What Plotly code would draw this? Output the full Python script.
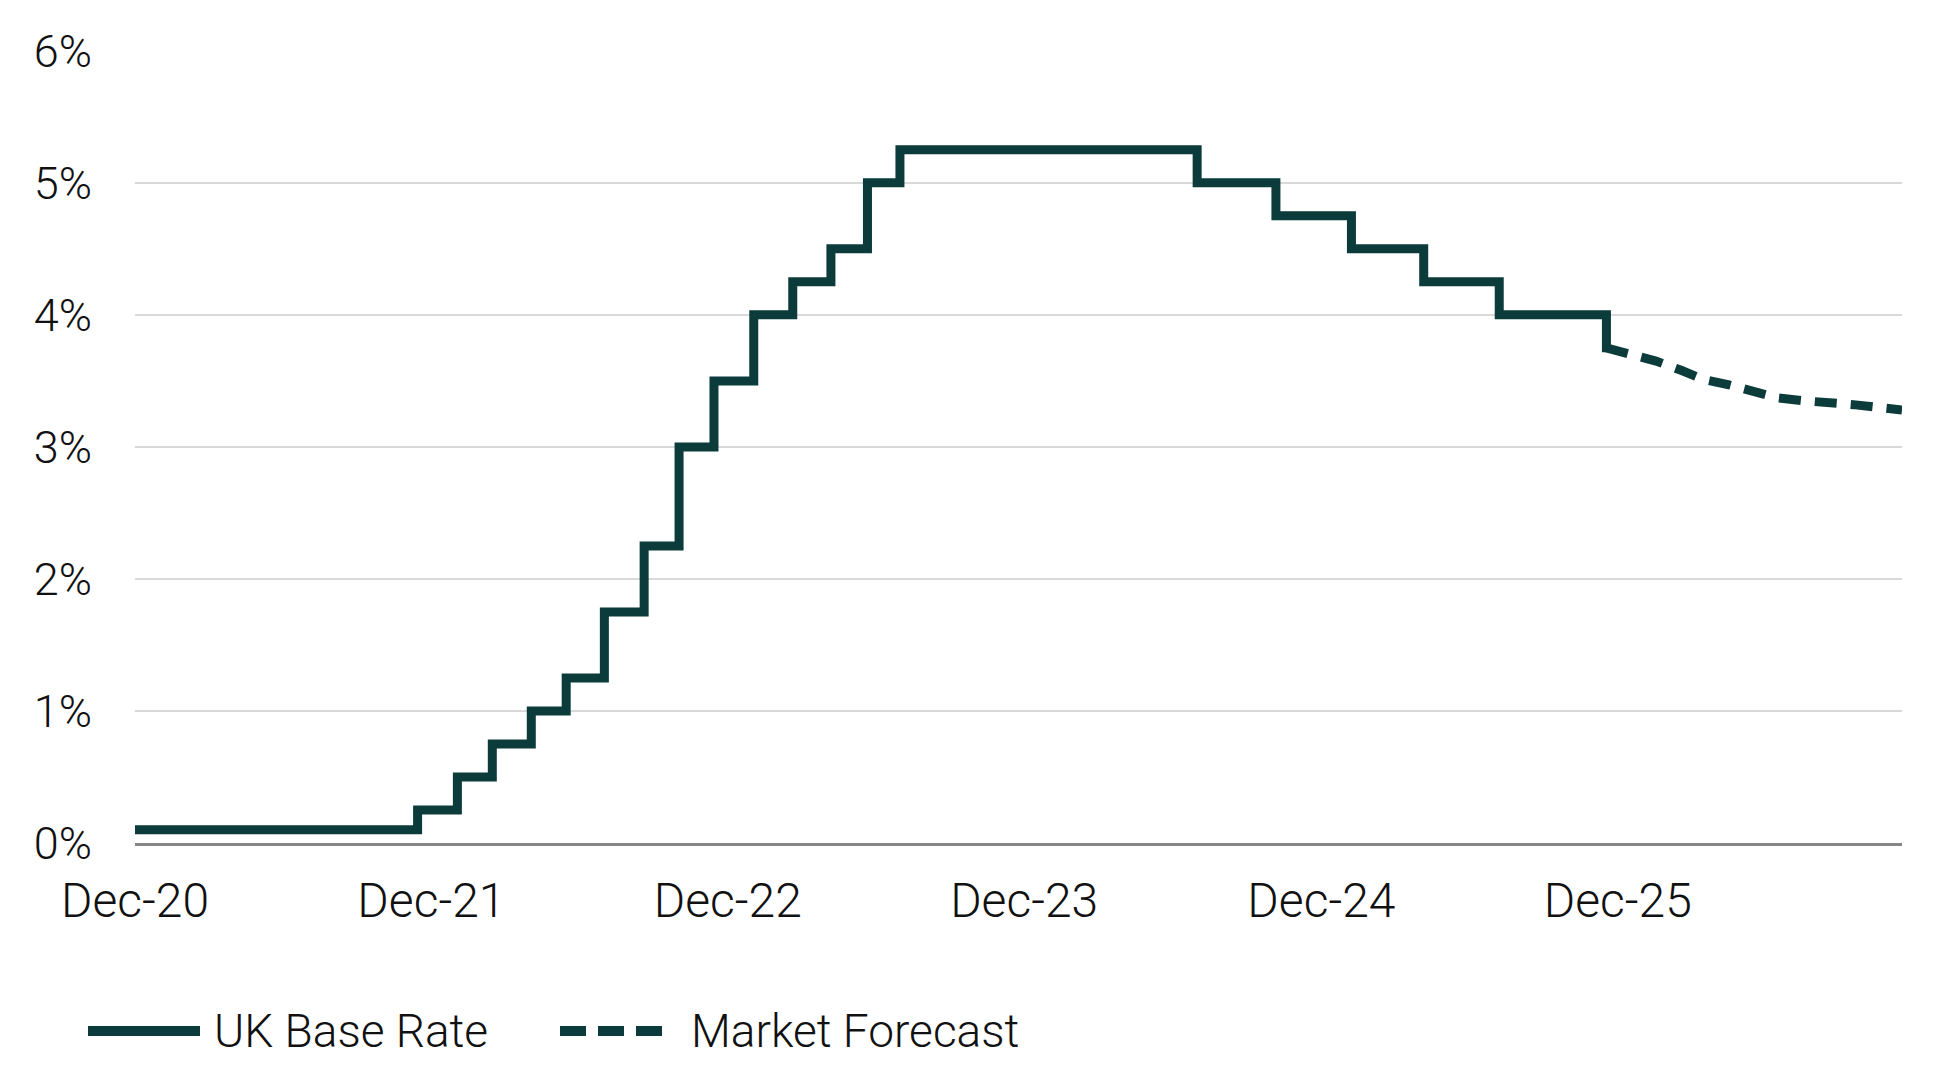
import plotly.graph_objects as go

# ---- data ----
base_dates = ['2020-12-01', '2021-11-14', '2022-01-02', '2022-02-14', '2022-04-03',
              '2022-05-16', '2022-07-02', '2022-08-20', '2022-10-02', '2022-11-14',
              '2023-01-02', '2023-02-19', '2023-04-07', '2023-05-22', '2023-07-01',
              '2024-07-01', '2024-10-06', '2025-01-07', '2025-04-06', '2025-07-08',
              '2025-11-17', '2025-11-22']
base_rates = [0.10, 0.25, 0.50, 0.75, 1.00, 1.25, 1.75, 2.25, 3.00, 3.50,
              4.00, 4.25, 4.50, 5.00, 5.25, 5.00, 4.75, 4.50, 4.25, 4.00,
              3.75, 3.75]

forecast_dates = ['2025-11-17', '2025-12-17', '2026-01-17', '2026-02-17', '2026-03-17',
                  '2026-04-17', '2026-05-17', '2026-06-17', '2026-07-17', '2026-08-17',
                  '2026-09-17', '2026-10-17', '2026-11-16']
forecast_rates = [3.75, 3.70, 3.65, 3.58, 3.51, 3.47, 3.42, 3.37, 3.35, 3.34,
                  3.32, 3.30, 3.28]

series_names = ['UK Base Rate', 'Market Forecast']
x_range = ['2020-12-01', '2026-11-16']
y_ticks = [0, 1, 2, 3, 4, 5, 6]
y_labels = ['0%', '1%', '2%', '3%', '4%', '5%', '6%']

COLOR = '#0b3b3a'
BASEFONT = dict(family='Roboto, Arial, sans-serif', color='#111111', weight=300)
XFONT = dict(BASEFONT, size=48)
YFONT = dict(BASEFONT, size=45)
LFONT = dict(BASEFONT, size=46)

W, H = 1953, 1068
OFF = 8  # page body margin
L, R, T, B = 135 - OFF, 51 + OFF, 50 - OFF, 225 + OFF

fig = go.Figure()
fig.add_trace(go.Scatter(x=base_dates, y=base_rates, mode='lines', name=series_names[0],
                         line=dict(color=COLOR, width=9, shape='hv'), showlegend=False))
fig.add_trace(go.Scatter(x=forecast_dates, y=forecast_rates, mode='lines', name=series_names[1],
                         line=dict(color=COLOR, width=9, dash='22px,14px'), showlegend=False))

fig.update_layout(
    width=W, height=H,
    margin=dict(l=L, r=R, t=T, b=B),
    paper_bgcolor='white', plot_bgcolor='white',
    font=LFONT,
    xaxis=dict(type='date', range=x_range, tick0='2020-12-01', dtick='M12',
               tickformat='%b-%y', showgrid=False, zeroline=False,
               showline=True, linecolor='#858585', linewidth=3,
               ticks='', ticklabelstandoff=13, tickfont=XFONT),
    yaxis=dict(range=[0, 6.006], tickvals=y_ticks, ticktext=y_labels,
               showgrid=True, gridcolor='#d9d9d9', gridwidth=2,
               zeroline=False, showline=False, ticks='',
               ticklabelstandoff=42, tickfont=YFONT),
)

# ---- manual legend (long line samples like the original) ----
pw = W - L - R
ph = H - T - B
def px(xp):
    return (xp - OFF - L) / pw
def py(yp):
    return (H - B - (yp - OFF)) / ph

leg_y = 1031
fig.add_shape(type='line', xref='paper', yref='paper',
              x0=px(88), x1=px(200), y0=py(leg_y), y1=py(leg_y),
              line=dict(color=COLOR, width=10))
fig.add_shape(type='line', xref='paper', yref='paper',
              x0=px(560), x1=px(666), y0=py(leg_y), y1=py(leg_y),
              line=dict(color=COLOR, width=10, dash='26px,12px'))
fig.add_annotation(xref='paper', yref='paper', x=px(212), y=py(leg_y),
                   text=series_names[0], showarrow=False, xanchor='left',
                   yanchor='middle', font=LFONT)
fig.add_annotation(xref='paper', yref='paper', x=px(689), y=py(leg_y),
                   text=series_names[1], showarrow=False, xanchor='left',
                   yanchor='middle', font=LFONT)

fig.write_html('out.html')
